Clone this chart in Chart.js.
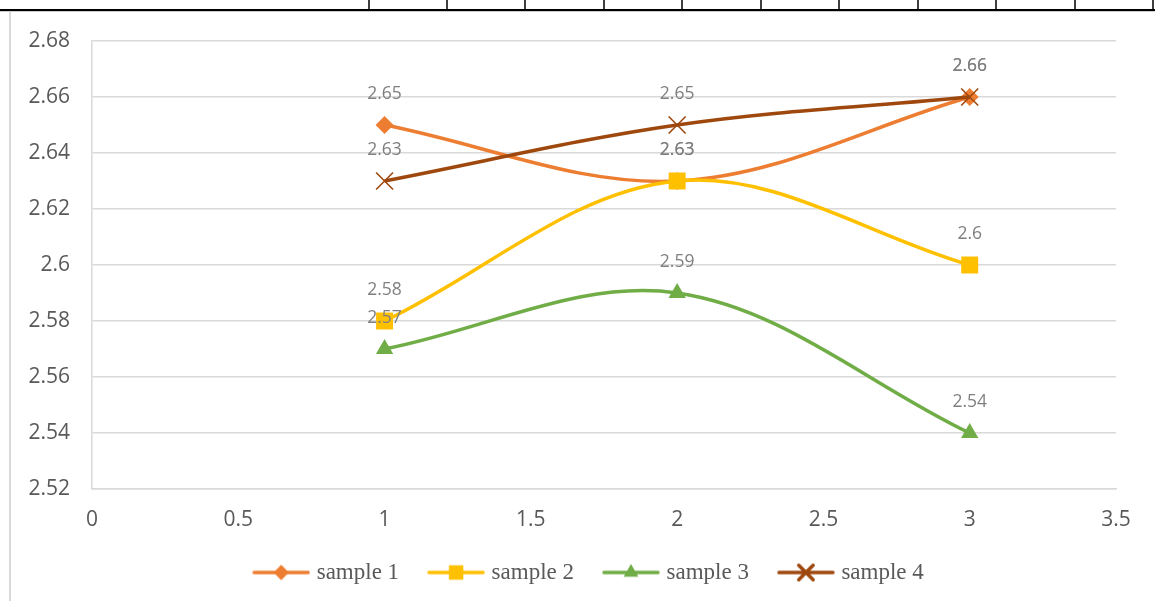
<!DOCTYPE html>
<html>
<head>
<meta charset="utf-8">
<title>sample 1–4</title>
<script src="https://cdn.jsdelivr.net/npm/chart.js@4.4.1/dist/chart.umd.min.js"></script>
<style>
  html, body { margin: 0; padding: 0; background: #ffffff; }
  #wrap { width: 1155px; height: 601px; position: relative; }
  canvas { display: block; }
</style>
</head>
<body>
<div id="wrap"><canvas id="chart" width="1155" height="601"></canvas></div>
<script>
// Measured values, one array per series
const xValues = [1, 2, 3];
const sample1 = [2.65, 2.63, 2.66];
const sample2 = [2.58, 2.63, 2.60];
const sample3 = [2.57, 2.59, 2.54];
const sample4 = [2.63, 2.65, 2.66];

const seriesNames = ['sample 1', 'sample 2', 'sample 3', 'sample 4'];
const seriesColors = ['#ED7D31', '#FFC000', '#70AD47', '#9E480E'];
const seriesStyles = ['rectRot', 'rect', 'triangle', 'crossRot'];
const seriesRadius = [9, 12, 10, 12];

// Axis tick values
const xTicks = [0, 0.5, 1, 1.5, 2, 2.5, 3, 3.5];
const yTicks = [2.52, 2.54, 2.56, 2.58, 2.6, 2.62, 2.64, 2.66, 2.68];

// Column separators of the table rule above the chart
const ruleTicks = [369, 447, 525, 604, 682, 761, 839, 918, 996, 1075, 1153];

const seriesValues = [sample1, sample2, sample3, sample4];

function fmt(v) {
  return String(parseFloat(Number(v).toFixed(2)));
}

// Legend swatch: a short line with the series marker in its middle
function legendSwatch(i) {
  const c = document.createElement('canvas');
  c.width = 58; c.height = 22;
  const g = c.getContext('2d');
  g.strokeStyle = seriesColors[i];
  g.lineWidth = 3.5;
  g.lineCap = 'round';
  g.beginPath();
  g.moveTo(2, 11); g.lineTo(56, 11);
  g.stroke();
  g.fillStyle = seriesColors[i];
  g.strokeStyle = seriesColors[i];
  const isCross = seriesStyles[i] === 'crossRot';
  Chart.helpers.drawPoint(g, {
    pointStyle: seriesStyles[i],
    radius: seriesRadius[i] * 0.85,
    rotation: 0,
    borderWidth: isCross ? 1.6 : 0
  }, 29, 11);
  return c;
}

// Later series are painted on top of earlier ones
const datasets = seriesValues.map((vals, i) => ({
  label: seriesNames[i],
  order: seriesValues.length - i,
  data: xValues.map((x, k) => ({ x: x, y: vals[k] })),
  showLine: true,
  tension: 0.35,
  borderColor: seriesColors[i],
  backgroundColor: seriesColors[i],
  borderWidth: 3.5,
  pointStyle: seriesStyles[i],
  pointRadius: seriesRadius[i],
  pointBorderWidth: seriesStyles[i] === 'crossRot' ? 1.6 : 0,
  pointBorderColor: seriesColors[i],
  pointBackgroundColor: seriesColors[i],
  clip: false
}));

// Page furniture: table rule on top and the chart frame's left edge
const framePlugin = {
  id: 'frame',
  beforeDraw(chart) {
    const ctx = chart.ctx;
    ctx.save();
    ctx.fillStyle = '#ffffff';
    ctx.fillRect(0, 0, chart.width, chart.height);
    ctx.fillStyle = '#000000';
    ctx.fillRect(0, 9, chart.width, 2.2);
    ruleTicks.forEach(x => ctx.fillRect(x - 0.75, 0, 1.5, 10));
    ctx.fillStyle = '#d9d9d9';
    ctx.fillRect(9, 12, 2, chart.height - 12);
    ctx.restore();
  }
};

// Value labels above every point
const valueLabels = {
  id: 'valueLabels',
  afterDatasetsDraw(chart) {
    const ctx = chart.ctx;
    ctx.save();
    ctx.font = '17.5px "Open Sans"';
    ctx.fillStyle = '#7f7f7f';
    ctx.textAlign = 'center';
    ctx.textBaseline = 'middle';
    chart.data.datasets.forEach((ds, i) => {
      const meta = chart.getDatasetMeta(i);
      meta.data.forEach((pt, k) => {
        ctx.fillText(fmt(ds.data[k].y), pt.x, pt.y - 31);
      });
    });
    ctx.restore();
  }
};

new Chart(document.getElementById('chart'), {
  type: 'scatter',
  data: { datasets },
  plugins: [framePlugin, valueLabels],
  options: {
    responsive: false,
    animation: false,
    events: [],
    layout: { padding: { left: 26, right: 0, top: 41, bottom: 7 } },
    plugins: {
      tooltip: { enabled: false },
      legend: {
        position: 'bottom',
        labels: {
          usePointStyle: true,
          pointStyleWidth: 48,
          padding: 33,
          color: '#595959',
          font: { family: '"Liberation Serif", "Times New Roman", serif', size: 23 },
          generateLabels(chart) {
            return chart.data.datasets.map((ds, i) => ({
              text: ds.label,
              fontColor: '#595959',
              pointStyle: legendSwatch(i),
              fillStyle: seriesColors[i],
              strokeStyle: seriesColors[i],
              lineWidth: 0,
              hidden: false,
              datasetIndex: i
            }));
          }
        }
      }
    },
    scales: {
      x: {
        type: 'linear',
        min: 0,
        max: 3.5,
        afterBuildTicks(scale) { scale.ticks = xTicks.map(v => ({ value: v })); },
        afterFit(scale) { scale.height = 39; },
        grid: { display: false, drawTicks: false },
        border: { display: true, color: '#d9d9d9', width: 1.5 },
        ticks: {
          padding: 18,
          color: '#595959',
          font: { family: '"Open Sans"', size: 21 },
          maxRotation: 0,
          callback: v => fmt(v)
        }
      },
      y: {
        type: 'linear',
        position: 'left',
        min: 2.52,
        max: 2.68,
        afterBuildTicks(scale) { scale.ticks = yTicks.map(v => ({ value: v })); },
        afterFit(scale) { scale.width = 66; },
        grid: { color: '#d9d9d9', lineWidth: 1.5, drawTicks: false },
        border: { display: true, color: '#d9d9d9', width: 1.5 },
        ticks: {
          padding: 22,
          color: '#595959',
          font: { family: '"Open Sans"', size: 21 },
          callback: v => fmt(v)
        }
      },
      // empty right-hand margin of the plot
      yRight: {
        type: 'linear',
        position: 'right',
        min: 2.52,
        max: 2.68,
        afterFit(scale) { scale.width = 39; },
        grid: { display: false, drawTicks: false },
        border: { display: false },
        ticks: { display: false }
      }
    }
  }
});
</script>
</body>
</html>
